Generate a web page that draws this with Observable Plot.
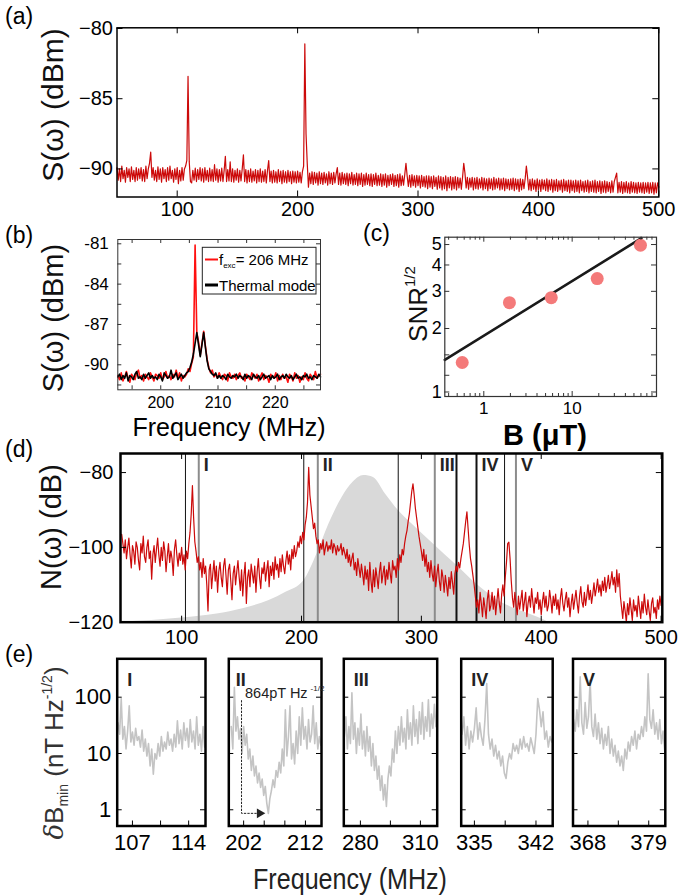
<!DOCTYPE html>
<html>
<head>
<meta charset="utf-8">
<script src="https://cdn.jsdelivr.net/npm/d3@7"></script>
<script src="https://cdn.jsdelivr.net/npm/@observablehq/plot@0.6"></script>
<style>
  html, body { margin: 0; padding: 0; background: #fff; }
  #fig { position: relative; width: 679px; height: 896px; overflow: hidden; font-family: "Liberation Sans", Arial, Helvetica, sans-serif; }
  #fig svg { position: absolute; left: 0; top: 0; }
</style>
</head>
<body>
<div id="fig"></div>
<script>
// ---------------- data ----------------

// (a) broadband spectrum S(w), dBm, sampled every 1 MHz from 50 MHz
const specAStart = 50, specAStep = 1;
const specA = [
-89.9,-90.8,-90.0,-90.9,-89.8,-90.7,-90.1,-90.95,-89.9,-90.6,
-90.0,-90.9,-89.85,-90.75,-90.1,-90.9,-89.9,-90.8,-90.0,-90.7,
-89.9,-90.85,-90.05,-90.9,-89.8,-90.7,-90.0,-89.6,-88.8,-90.6,
-89.9,-90.8,-90.1,-90.9,-89.85,-90.75,-90.0,-90.95,-89.9,-90.7,
-90.05,-90.9,-89.9,-90.8,-89.8,-90.7,-90.1,-90.95,-90.0,-90.75,
-89.9,-91.05,-90.1,-90.85,-89.9,-90.8,-90.0,-89.8,-89.4,-83.4,
-89.5,-90.9,-91.0,-90.1,-90.8,-89.95,-90.9,-90.05,-90.75,-89.9,
-90.85,-90.0,-90.95,-89.9,-90.8,-90.1,-90.9,-89.95,-90.85,-90.05,
-90.9,-89.7,-90.8,-90.0,-90.95,-90.05,-90.85,-89.95,-90.9,-90.1,
-89.1,-90.9,-90.05,-90.85,-89.5,-90.9,-90.0,-90.95,-90.1,-90.8,
-90.0,-90.95,-90.1,-90.85,-90.0,-89.0,-90.9,-90.05,-91.0,-90.1,
-90.9,-90.0,-90.95,-90.15,-90.85,-90.05,-91.0,-90.1,-90.9,-90.0,
-90.95,-90.15,-90.9,-90.05,-91.0,-90.1,-89.4,-90.9,-90.15,-91.0,
-90.1,-90.95,-90.2,-91.0,-90.05,-90.9,-90.15,-91.05,-90.1,-90.95,
-90.2,-91.0,-90.1,-90.9,-90.2,-91.05,-90.15,-90.95,-90.2,-91.0,
-90.15,-90.95,-90.25,-91.0,-90.2,-89.8,-81.1,-87.5,-89.6,-91.3,
-90.3,-91.05,-90.2,-91.1,-90.25,-91.0,-90.3,-91.15,-90.2,-91.05,
-90.3,-91.1,-90.25,-91.0,-90.35,-91.15,-90.2,-91.05,-90.3,-91.1,
-90.25,-91.0,-90.35,-89.9,-91.1,-90.3,-91.15,-90.25,-91.05,-90.35,
-91.1,-90.3,-91.2,-90.35,-91.05,-90.25,-91.15,-90.4,-91.1,-90.3,
-91.2,-90.35,-91.1,-90.3,-91.25,-90.4,-91.15,-90.3,-91.1,-90.4,
-91.2,-90.35,-91.25,-90.4,-91.1,-90.3,-91.2,-90.45,-91.15,-90.35,
-91.25,-90.4,-91.15,-90.35,-91.3,-90.45,-91.2,-90.4,-91.1,-90.35,
-91.25,-90.45,-91.2,-90.4,-91.3,-90.35,-91.2,-90.5,-91.15,-90.4,
-89.6,-90.5,-91.25,-90.45,-91.3,-90.4,-91.2,-90.5,-91.3,-90.45,
-91.2,-90.5,-91.35,-90.45,-91.25,-90.55,-91.3,-90.5,-91.4,-90.5,
-91.3,-90.55,-91.4,-90.5,-91.25,-90.6,-91.45,-90.5,-91.35,-90.55,
-91.5,-90.6,-91.4,-90.5,-91.55,-90.6,-91.35,-90.55,-91.5,-90.6,
-91.4,-90.55,-91.5,-90.6,-91.35,-90.65,-91.45,-90.6,-89.6,-90.3,
-91.35,-90.6,-91.45,-90.65,-91.3,-90.6,-91.5,-90.65,-91.4,-90.6,
-91.45,-90.7,-91.35,-90.6,-91.5,-90.65,-91.4,-90.7,-91.55,-90.65,
-91.4,-90.7,-91.5,-90.6,-91.45,-90.7,-91.35,-90.65,-91.5,-90.7,
-91.45,-90.65,-91.55,-90.7,-91.4,-90.75,-91.5,-90.7,-91.45,-90.65,
-91.55,-90.7,-91.45,-90.75,-91.6,-90.7,-91.5,-90.75,-91.4,-90.7,
-89.8,-90.6,-91.5,-90.75,-91.55,-90.7,-91.45,-90.8,-91.6,-90.7,
-91.5,-90.8,-91.6,-90.75,-91.45,-90.8,-91.55,-90.7,-91.6,-90.8,
-91.5,-90.75,-91.65,-90.8,-91.55,-90.75,-91.6,-90.85,-91.5,-90.8,
-91.65,-90.75,-91.55,-90.85,-91.6,-90.8,-91.7,-90.8,-91.55,-90.85,
-91.65,-90.8,-91.6,-90.85,-91.7,-90.8,-91.55,-90.9,-91.65,-90.85,
-91.6,-90.8,-91.7,-90.9,-91.6,-90.85,-91.65,-90.8,-91.7,-90.9,
-91.6,-90.85,-91.75,-90.9,-91.65,-90.85,-91.7,-90.9,-91.6,-90.95,
-91.7,-90.85,-91.65,-90.9,-90.6,-90.3,-91.7,-90.95,-91.65,-90.9,
-91.75,-90.95,-91.65,-90.9,-91.7,-91.0,-91.75,-90.9,-91.65,-90.95,
-91.7,-91.0,-91.75,-90.95,-91.65,-91.0,-91.7,-90.95,-91.75,-91.0,
-91.65,-90.95,-91.75,-91.0,-91.7,-90.95,-91.8,-91.0,-91.7,-91.0,
-91.3
];
const specAXTicks = [100, 200, 300, 400, 500];
const specAYTicks = [-80, -85, -90];

// (b) driven vs. thermal spectrum near 206 MHz, every 0.3 MHz from 192.5 MHz
const specBStart = 192.5, specBStep = 0.3;
const specBDriven = [
-90.8,-91.1,-90.6,-91.2,-90.9,-90.5,-91.0,-91.3,-90.7,-90.9,
-91.1,-90.6,-90.4,-91.0,-90.8,-91.2,-90.7,-90.9,-91.1,-90.6,
-90.9,-91.2,-90.7,-90.8,-91.0,-90.6,-91.1,-90.9,-90.5,-91.0,
-90.8,-91.1,-90.7,-90.9,-90.4,-91.0,-90.6,-91.2,-90.8,-90.9,
-90.7,-90.3,-90.5,-89.9,-89.4,-81.1,-87.6,-88.3,-89.3,-88.4,
-87.5,-88.6,-89.6,-90.2,-90.6,-90.4,-90.9,-90.7,-91.0,-90.6,
-90.9,-91.1,-90.7,-90.8,-91.2,-90.6,-90.9,-91.0,-90.7,-91.1,
-90.8,-90.6,-91.0,-90.9,-91.2,-90.7,-90.9,-91.1,-90.6,-90.8,
-91.0,-90.7,-91.2,-90.9,-90.6,-91.1,-90.8,-90.9,-91.3,-90.7,
-90.9,-91.0,-90.6,-91.2,-90.8,-91.1,-90.7,-91.0,-90.9,-91.3,
-90.7,-90.9,-91.2,-90.6,-91.0,-90.8,-91.3,-90.9,-91.1,-90.6,
-91.0,-91.2,-90.7,-90.9,-91.1,-90.5,-91.0,-90.8,-90.7
];
const specBThermal = [
-90.9,-90.7,-91.1,-90.8,-91.0,-90.6,-91.2,-90.8,-90.9,-91.1,
-90.7,-90.5,-91.0,-90.9,-91.1,-90.7,-91.0,-90.8,-90.6,-91.0,
-90.8,-91.0,-90.9,-91.1,-90.7,-90.9,-91.2,-90.6,-90.8,-91.0,
-90.9,-90.4,-91.0,-90.8,-90.6,-91.1,-90.9,-90.7,-91.0,-90.8,
-90.6,-90.5,-90.2,-89.8,-89.2,-88.4,-87.6,-88.5,-89.4,-88.5,
-87.6,-88.7,-89.7,-90.3,-90.5,-90.7,-90.8,-90.6,-91.0,-90.8,
-91.0,-90.8,-90.9,-91.1,-90.7,-90.9,-91.0,-90.8,-90.9,-90.7,
-91.0,-90.8,-90.9,-91.1,-90.7,-91.0,-90.8,-90.9,-91.1,-90.7,
-90.9,-91.0,-90.8,-91.1,-90.9,-90.7,-91.0,-90.9,-90.8,-91.1,
-90.8,-91.0,-90.9,-90.7,-91.1,-90.9,-90.8,-91.0,-90.7,-90.9,
-91.0,-90.8,-91.1,-90.9,-90.7,-91.0,-90.9,-91.1,-90.8,-90.9,
-90.7,-91.0,-90.9,-91.1,-90.8,-90.9,-91.0,-90.7,-90.9
];
const specBXTicks = [195, 200, 205, 210, 215, 220, 225];
const specBXLabels = [200, 210, 220];
const specBYTicks = [-91.5, -90, -88.5, -87, -85.5, -84, -82.5, -81];
const specBYLabels = [-81, -84, -87, -90];

// (c) SNR^(1/2) against applied field B (uT), with power-law fit
const fieldB = [0.57, 1.95, 5.8, 19.2, 59.3];
const snrRoot = [1.38, 2.65, 2.80, 3.45, 4.96];
const fitB = [0.362, 60.8];
const fitSNR = [1.42, 5.36];
const snrXMajor = [1, 10];
const snrXMinor = [0.4, 0.5, 0.6, 0.7, 0.8, 0.9, 2, 3, 4, 5, 6, 7, 8, 9, 20, 30, 40, 50, 60, 70, 80];
const snrYTicks = [1, 1.2, 1.5, 2, 3, 4, 5];
const snrYLabels = [1, 2, 3, 4, 5];

// (d) noise spectrum N(w), dB, every 1 MHz from 50 MHz
const noiseStart = 50, noiseStep = 1;
const noiseD = [
-96.5,-99,-101.5,-98,-103,-100,-97.5,-102,-105.5,-99.5,
-101,-104.5,-98.5,-100,-103.5,-106,-99,-101.5,-97,-102.5,
-104,-100,-98,-103,-101,-108.5,-102,-99.5,-104,-100.5,
-97.5,-102,-105,-100,-103.5,-98.5,-101,-106.5,-102.5,-99,
-104,-101,-103,-107.5,-100.5,-98,-102,-105,-101.5,-103.5,
-100,-104.5,-102,-106,-101,-103,-99,-96,-91,-83.5,
-92,-98.5,-101,-104,-102.5,-106,-104,-108,-103,-107,
-105,-110,-117,-106,-104.5,-111,-107,-103.5,-109,-105,
-112,-106.5,-104,-108,-110.5,-105,-103,-107.5,-112.5,-106,
-104.5,-109,-114,-107,-105,-110,-106.5,-103.5,-108,-111.5,
-106,-113,-107.5,-104,-115,-108,-106,-110.5,-104.5,-107,
-109.5,-105,-112,-106.5,-103,-108,-111,-105.5,-107,-104,
-109,-106,-103.5,-110.5,-105,-107.5,-104,-108.5,-102.5,-106,
-104.5,-108,-103,-106.5,-102,-105,-107,-103.5,-101,-104.5,
-102,-106,-100.5,-103,-99.5,-102.5,-101,-98.5,-100,-97,
-99,-96,-98,-94,-92,-88,-78.6,-86,-89,-92,
-95,-93.5,-97,-99,-98,-101.5,-99,-100.5,-98,-102,
-100,-98.5,-101,-99.5,-100.5,-98,-101.5,-99,-100,-102,
-99.5,-101,-100.5,-99,-102,-100,-101.5,-103,-100.5,-104,
-102,-105,-103,-101.5,-106,-104,-107.5,-103,-105.5,-108,
-104.5,-107,-110,-105,-108.5,-106,-111.5,-104,-109,-112,
-106,-110.5,-105.5,-108,-111,-106.5,-104,-109.5,-107,-105,
-110,-106,-108.5,-104,-107,-109.5,-103.5,-106,-105,-108,
-103,-106,-102,-104,-100.5,-102,-99,-97,-95.5,-93,
-91,-88,-85,-83,-86,-89.5,-92,-94.5,-97,-99,
-101,-103.5,-100.5,-105,-102,-106.5,-104,-108,-103.5,-107,
-109,-105,-110.5,-107,-104.5,-109,-111.5,-106,-108,-112,
-107.5,-110,-113,-108,-111,-106.5,-109.5,-112.5,-107,-105,
-106.5,-104,-105.5,-103,-101,-99,-96,-93,-90.5,-95,
-99.5,-103,-105,-107.5,-110,-113,-116,-114,-117.5,-112,
-115,-118.5,-113.5,-116,-119,-114,-111.5,-117,-115.5,-112,
-116.5,-113,-118,-114.5,-111,-115,-117.5,-112.5,-110,-113,
-108,-104,-99,-98.6,-103,-109,-113.5,-116,-112,-115.5,
-118,-113,-116.5,-114,-111.5,-117,-114.5,-112,-118.5,-115,
-113,-116,-111,-114.5,-117.5,-113.5,-115,-112,-116.5,-114,
-118,-114.5,-112,-116,-113,-117,-115.5,-111.5,-114,-117.5,
-113,-115.5,-112.5,-116.5,-114,-118,-113.5,-111,-115,-117,
-114,-112,-116,-113.5,-118.5,-115,-112.5,-116.5,-114,-111.5,
-115,-117.5,-113,-110.5,-114.5,-116,-112,-115.5,-113,-110,
-114,-111.5,-115,-112.5,-109.5,-113,-111,-108.5,-112,-110,
-113,-109,-111.5,-108,-112,-110,-107.5,-111,-109,-106.5,
-110,-108,-112,-106,-110.5,-107,-113,-116,-119,-114.5,
-117,-120,-115,-118,-113.5,-116.5,-119.5,-114,-117,-115.5,
-118.5,-113,-116,-119,-114.5,-117.5,-112.5,-116,-118,-114,
-117,-119.5,-115,-113.5,-117.5,-116,-119,-114,-116.5,-113,
-115.5
];
// grey response envelope (MHz, dB)
const envFreq  = [50, 100, 129.5, 151, 173, 187, 202, 213, 223, 234, 243, 252, 260, 270, 281, 292, 310, 328, 346, 364, 382, 397, 406];
const envLevel = [-120, -118.9, -117.8, -116.4, -114.2, -112, -108.9, -101.7, -93.7, -86.6, -82.6, -80.8, -81.3, -85.7, -90.2, -93.7, -99.1, -104.4, -109.8, -114.2, -116.9, -118.7, -120];
// analysis windows (MHz)
const winNames = ["I", "II", "III", "IV", "V"];
const winLo = [103.2, 201.9, 280.7, 329.3, 369.4];
const winHi = [114.3, 213.6, 311.2, 346.0, 378.9];
const noiseXTicks = [100, 200, 300, 400, 500];
const noiseYTicks = [-80, -100, -120];

// (e) minimum detectable field, nT/Hz^(1/2), inside each window
const sensStart = [105.2, 200, 272, 333.6, 365.4];
const sensStep  = [0.2, 0.25, 0.75, 0.2, 0.3];
const sensI = [35,22,95,18,30,12,25,70,16,24,14,28,17,20,13,26,11,18,9,15,6,12,4.3,10,8,15,9,20,11,16,12,24,14,18,11,22,13,38,15,26,12,35,17,28,13,40,16,25,12,45,14,22,11,30,13];
const sensII = [30,12,150,25,45,18,28,10,30,14,22,8,12,5,9,4,6,3,4.5,2.5,3.5,1.8,2.6,1.3,0.864,1.6,2.2,3.4,2.5,5,3.8,7,4.5,12,6,60,9,20,70,8,15,6.5,25,10,45,14,65,18,30,12,40,16,22,70,15,35,12,20,14];
const sensIII = [20,45,12,30,15,120,18,35,10,28,14,50,12,25,9,30,11,20,6,15,5,9,3.5,6,2.2,4,1.5,2.8,1.15,3.5,6,4,12,7,25,10,30,14,45,16,28,12,60,18,35,14,70,20,40,15,55,22,80,18,45,25,90,20,50,28,75,30];
const sensIV = [22,45,14,30,12,25,16,28,65,18,35,20,14,40,175,22,12,18,9,14,8,11,6,9,4.5,3.6,7,10,8,15,11,14,10,18,12,20,13,15,11,19,14,10,22,95,60,30,55,18,25,13,20,16];
const sensV = [40,25,60,30,230,35,22,80,28,45,200,30,20,50,18,35,15,28,12,22,14,30,10,18,9,14,7,11,6,9,5,12,8,16,11,20,14,25,12,22,18,30,20,45,25,260,40,28,60,22,35,18,40,15,25,11];
const sensTraces = [sensI, sensII, sensIII, sensIV, sensV];
const sensDomains = [[105.1, 116.1], [199.6, 214.6], [271.7, 318.4], [333.5, 343.9], [365.3, 382]];
const sensXTicks = [[107, 110.5, 114], [202, 205.33, 208.67, 212], [280, 295, 310], [335, 338.5, 342], [368, 373.5, 379]];
const sensXLabels = [[107, 114], [202, 212], [280, 310], [335, 342], [368, 379]];
const sensYTicks = [1, 10, 100];
// best sensitivity marker in window II: 864 pT/Hz^(1/2)
const bestFreq = [201.66, 201.66, 204.6];
const bestLevel = [87, 0.864, 0.864];

// ---------------- layout ----------------
const W = 679, H = 896;
const FONT = '"Liberation Sans", Arial, Helvetica, sans-serif';
const RED = "#cc0a0a";
const fig = document.getElementById("fig");

const boxA = [116.5, 27.3, 658.3, 196.5];
const boxB = [117.3, 239, 320, 389.3];
const boxC = [444.3, 236.7, 656, 396];
const boxD = [120, 453, 661.8, 621.7];
const boxE = [[116.7, 205], [228.3, 321], [343.3, 436.7], [460.7, 552.2], [572.5, 664.8]];
const eTop = 658.3, eBottom = 825.5;

function place(box, xOpt, yOpt, marks) {
  const [l, t, r, b] = box;
  const svg = Plot.plot({
    width: W, height: H,
    marginLeft: l, marginTop: t, marginRight: W - r, marginBottom: H - b,
    x: {...xOpt, axis: null},
    y: {...yOpt, axis: null},
    style: {background: "none", fontFamily: FONT, overflow: "visible", color: "black"},
    marks
  });
  fig.appendChild(svg);
}

// inward ticks drawn on the frame edges
function edgeTicks(box, {x, y, len = 6, stroke = "black", w = 1, sides = "tblr"}) {
  const fh = box[3] - box[1], fw = box[2] - box[0];
  const m = [];
  if (x) {
    if (sides.includes("b")) m.push(Plot.ruleX(x, {x: d => d, insetTop: fh - len, stroke, strokeWidth: w}));
    if (sides.includes("t")) m.push(Plot.ruleX(x, {x: d => d, insetBottom: fh - len, stroke, strokeWidth: w}));
  }
  if (y) {
    if (sides.includes("l")) m.push(Plot.ruleY(y, {y: d => d, insetRight: fw - len, stroke, strokeWidth: w}));
    if (sides.includes("r")) m.push(Plot.ruleY(y, {y: d => d, insetLeft: fw - len, stroke, strokeWidth: w}));
  }
  return m;
}
const xLab = (vals, dy, fontSize, fmt = d => String(d)) =>
  Plot.text(vals, {x: d => d, text: fmt, frameAnchor: "bottom", lineAnchor: "top", dy, fontSize, fill: "black"});
const yLab = (vals, dx, fontSize, fmt = d => String(d)) =>
  Plot.text(vals, {y: d => d, text: fmt, frameAnchor: "left", textAnchor: "end", dx: -dx, fontSize, fill: "black"});
const minus = d => (d < 0 ? "\u2212" + Math.abs(d) : String(d));

// ---- (a) ----
const rowsA = specA.map((v, i) => ({f: specAStart + i * specAStep, v}));
place(boxA, {domain: [50, 500]}, {domain: [-92, -79.95]}, [
  Plot.line(rowsA, {x: "f", y: "v", stroke: RED, strokeWidth: 1.2}),
  ...edgeTicks(boxA, {x: specAXTicks, y: specAYTicks, len: 6}),
  Plot.frame({stroke: "black", strokeWidth: 1.5}),
  xLab(specAXTicks, 5, 20),
  yLab(specAYTicks, 4, 20, minus)
]);

// ---- (b) ----
const rowsBD = specBDriven.map((v, i) => ({f: specBStart + i * specBStep, v}));
const rowsBT = specBThermal.map((v, i) => ({f: specBStart + i * specBStep, v}));
place(boxB, {domain: [192.5, 227.9]}, {domain: [-91.86, -80.68]}, [
  Plot.line(rowsBD, {x: "f", y: "v", stroke: "#ff1010", strokeWidth: 1.6}),
  Plot.line(rowsBT, {x: "f", y: "v", stroke: "black", strokeWidth: 1.6}),
  ...edgeTicks(boxB, {x: specBXTicks, y: specBYTicks, len: 4, stroke: "#333"}),
  Plot.frame({stroke: "#333", strokeWidth: 1}),
  xLab(specBXLabels, 7, 16),
  yLab(specBYLabels, 9, 17, d => "-" + Math.abs(d))
]);

// ---- (c) ----
const rowsC = fieldB.map((b, i) => ({b, s: snrRoot[i]}));
const rowsFit = fitB.map((b, i) => ({b, s: fitSNR[i]}));
place(boxC, {type: "log", domain: [0.362, 90]}, {type: "log", domain: [0.952, 5.417]}, [
  Plot.line(rowsFit, {x: "b", y: "s", stroke: "#1a1a1a", strokeWidth: 2.6}),
  Plot.dot(rowsC, {x: "b", y: "s", r: 6.5, fill: "#f47a7a", stroke: "none"}),
  ...edgeTicks(boxC, {x: snrXMajor, y: snrYTicks, len: 5, stroke: "#333"}),
  ...edgeTicks(boxC, {x: snrXMinor, len: 3, stroke: "#333"}),
  Plot.frame({stroke: "#333", strokeWidth: 1.2}),
  xLab(snrXMajor, 5, 17),
  yLab(snrYLabels, 3, 18)
]);

// ---- (d) ----
const rowsD = noiseD.map((v, i) => ({f: noiseStart + i * noiseStep, v}));
const rowsEnv = envFreq.map((f, i) => ({f, v: envLevel[i]}));
const winRows = winNames.map((n, i) => ({n, lo: winLo[i], hi: winHi[i], i}));
place(boxD, {domain: [49, 501]}, {domain: [-120, -74.9]}, [
  Plot.areaY(rowsEnv, {x: "f", y1: -120, y2: "v", fill: "#d9d9d9", curve: "monotone-x"}),
  Plot.ruleX(winRows, {x: "lo", stroke: "#111", strokeWidth: d => (d.i === 3 ? 2 : 1)}),
  Plot.ruleX(winRows, {x: "hi", stroke: d => (d.i === 3 ? "#111" : "#8c8c8c"), strokeWidth: 2}),
  Plot.line(rowsD, {x: "f", y: "v", stroke: RED, strokeWidth: 1.2, clip: true}),
  Plot.text(winRows, {x: "hi", text: "n", frameAnchor: "top", textAnchor: "start", lineAnchor: "top", dx: 5, dy: 5, fontSize: 18, fontWeight: "bold", fill: "#222"}),
  ...edgeTicks(boxD, {x: noiseXTicks, y: noiseYTicks, len: 6}),
  Plot.frame({stroke: "black", strokeWidth: 2.5}),
  xLab(noiseXTicks, 8, 20),
  yLab(noiseYTicks, 7, 20, minus)
]);

// ---- (e) ----
sensTraces.forEach((vals, k) => {
  const box = [boxE[k][0], eTop, boxE[k][1], eBottom];
  const rows = vals.map((v, i) => ({f: sensStart[k] + i * sensStep[k], v}));
  const marks = [
    Plot.line(rows, {x: "f", y: "v", stroke: "#c4c4c4", strokeWidth: 1.6, clip: true}),
    ...edgeTicks(box, {x: sensXTicks[k], len: 5, sides: "b"}),
    ...edgeTicks(box, {y: sensYTicks, len: 5, sides: "lr"}),
    Plot.frame({stroke: "black", strokeWidth: 2.5}),
    Plot.text([winNames[k]], {frameAnchor: "top-left", textAnchor: "start", lineAnchor: "top", dx: k === 1 ? 7 : 10, dy: 14, fontSize: 18, fontWeight: "bold", fill: "#222"}),
    xLab(sensXLabels[k], 8, 22)
  ];
  if (k === 0) marks.push(yLab(sensYTicks, 6, 22));
  if (k === 1) {
    const best = bestFreq.map((f, i) => ({f, v: bestLevel[i]}));
    marks.push(
      Plot.line(best, {x: "f", y: "v", stroke: "#222", strokeWidth: 1, strokeDasharray: "1.5,2"}),
      Plot.dot(best.slice(2), {x: "f", y: "v", symbol: "triangle", rotate: 90, r: 3.6, fill: "#222", stroke: "none"})
    );
  }
  place(box, {domain: sensDomains[k]}, {type: "log", domain: [0.515, 481]}, marks);
});

// ---------------- titles, letters, legend ----------------
const ov = d3.select(fig).append("svg").attr("width", W).attr("height", H)
  .style("font-family", FONT).style("overflow", "visible");

function label(x, y, s, size, opts = {}) {
  const t = ov.append("text").attr("x", x).attr("y", y).attr("font-size", size)
    .attr("text-anchor", opts.anchor || "start").attr("fill", opts.fill || "black").text(s);
  if (opts.weight) t.attr("font-weight", opts.weight);
  if (opts.width) t.attr("textLength", opts.width).attr("lengthAdjust", "spacingAndGlyphs");
  return t;
}
function vlabel(x, y, s, size) {
  return ov.append("text").attr("transform", `translate(${x},${y}) rotate(-90)`)
    .attr("text-anchor", "middle").attr("font-size", size).attr("fill", "#111").text(s);
}

// panel letters
label(5, 24, "(a)", 23);
label(5, 243, "(b)", 23);
label(363, 241, "(c)", 23);
label(5, 457, "(d)", 23);
label(5, 662, "(e)", 23);

// axis titles
vlabel(63, 105, "S(\u03c9) (dBm)", 30);
vlabel(63, 318, "S(\u03c9) (dBm)", 29);
vlabel(61, 527, "N(\u03c9) (dB)", 29);
label(229, 436, "Frequency (MHz)", 25, {anchor: "middle"});
label(545, 445, "B (\u03bcT)", 29, {anchor: "middle", weight: "bold"});

const snr = ov.append("text").attr("transform", "translate(427,304) rotate(-90)")
  .attr("text-anchor", "middle").attr("font-size", 26).attr("fill", "#111");
snr.append("tspan").text("SNR");
snr.append("tspan").attr("font-size", 15).attr("dy", -12).text("1/2");

const eT = ov.append("text").attr("transform", "translate(63,753) rotate(-90)")
  .attr("text-anchor", "middle").attr("font-size", 26).attr("fill", "#333");
eT.append("tspan").attr("font-style", "italic").attr("font-family", "DejaVu Serif").text("\u03b4");
eT.append("tspan").text("B");
eT.append("tspan").attr("font-size", 14).attr("dy", 5).text("min");
eT.append("tspan").attr("dy", -5).text(" (nT Hz");
eT.append("tspan").attr("font-size", 14).attr("dy", -11).text("-1/2");
eT.append("tspan").attr("dy", 11).text(")");

label(350, 889, "Frequency (MHz)", 29, {anchor: "middle", width: 194, fill: "#222"});

// annotation inside window II
const ann = ov.append("text").attr("x", 245).attr("y", 698).attr("font-size", 14.5).attr("fill", "#222");
ann.append("tspan").text("864pT Hz");
ann.append("tspan").attr("font-size", 8).attr("dx", 3).attr("dy", -7).text("-1/2");

// legend of (b)
const lg = ov.append("g");
lg.append("rect").attr("x", 202.3).attr("y", 247.3).attr("width", 113.7).attr("height", 46.7)
  .attr("fill", "white").attr("stroke", "#222").attr("stroke-width", 1);
lg.append("line").attr("x1", 205).attr("x2", 218).attr("y1", 259.5).attr("y2", 259.5)
  .attr("stroke", "#ff1010").attr("stroke-width", 2);
const l1 = lg.append("text").attr("x", 219).attr("y", 265).attr("font-size", 15);
l1.append("tspan").text("f");
l1.append("tspan").attr("font-size", 8).attr("dy", 3).text("exc");
l1.append("tspan").attr("dy", -3).text("= 206 MHz");
lg.append("line").attr("x1", 205).attr("x2", 218).attr("y1", 285).attr("y2", 285)
  .attr("stroke", "black").attr("stroke-width", 3);
lg.append("text").attr("x", 219).attr("y", 290.5).attr("font-size", 15).text("Thermal mode");
</script>
</body>
</html>
